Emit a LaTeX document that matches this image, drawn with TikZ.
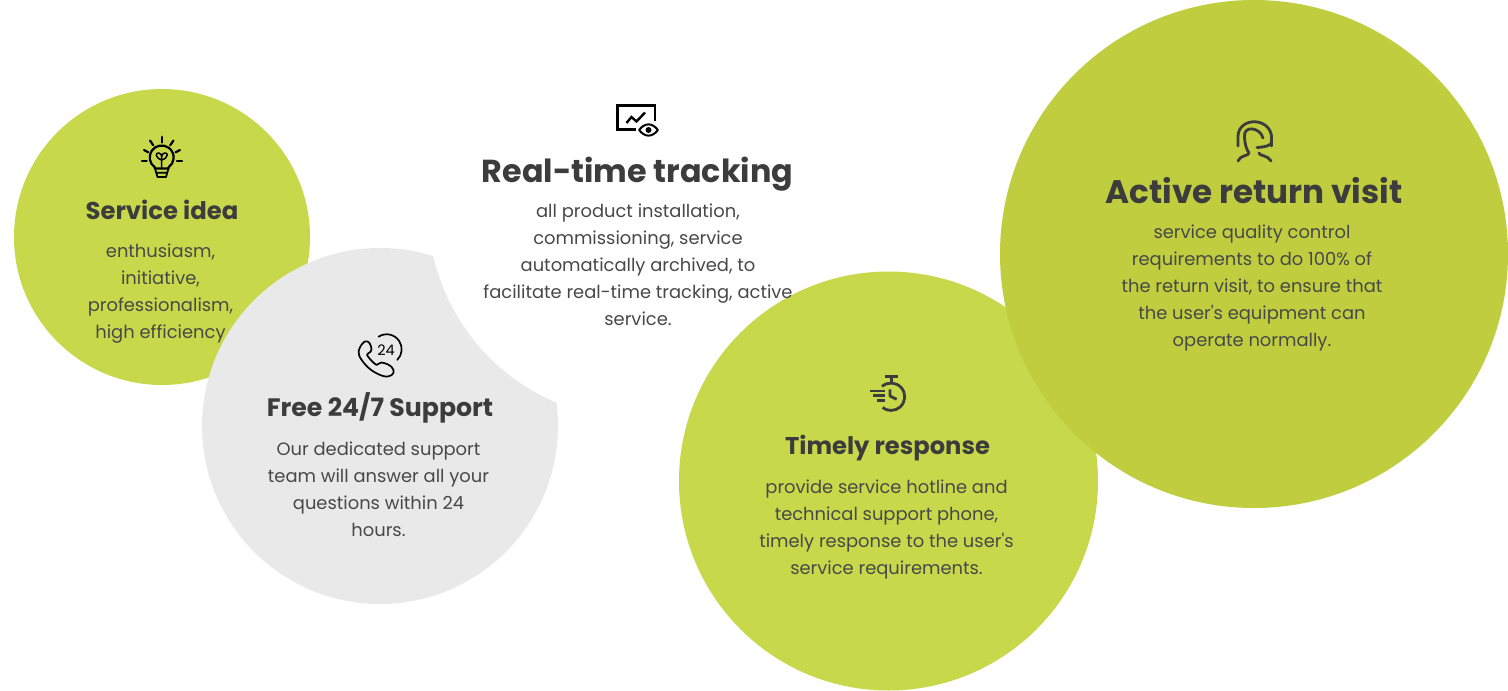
\documentclass[tikz,border=0pt]{standalone}
\usepackage{fontspec}
\setmainfont{Poppins}[Ligatures=TeXOff]
\definecolor{lime}{HTML}{C8D84B}
\definecolor{limedark}{HTML}{BFCD3F}
\definecolor{greydisc}{HTML}{E9E9E9}
\definecolor{ink}{HTML}{3C3C3C}
\definecolor{bodyink}{HTML}{484848}
\tikzset{
  disc/.style={circle,inner sep=0pt,minimum size=#1,draw=none},
  head/.style={text=ink,font=\fontsize{#1}{#1}\selectfont\bfseries,inner sep=0pt,anchor=base},
  body/.style={text=bodyink,font=\fontsize{17.9}{27}\selectfont,align=center,inner sep=0pt,anchor=base},
  icon/.style={line width=2.2pt,line cap=round,line join=round,draw=black},
  icondark/.style={line width=2.8pt,line cap=butt,line join=round,draw=ink},
}
\begin{document}
\begin{tikzpicture}[x=1pt,y=-1pt]
\useasboundingbox (0,0) rectangle (1508,691);
% discs
\node[disc=296pt,fill=lime] (d1) at (162,237) {};
\node[disc=356pt,fill=greydisc] (d2) at (380,426) {};
\node[disc=420pt,fill=white] (d3) at (638,209) {};
\node[disc=419pt,fill=lime] (d4) at (888.5,481) {};
\node[disc=508pt,fill=limedark] (d5) at (1254,254) {};
% texts
\node[head=24.3] (t1) at (162,219) {Service idea};
\node[body] (b1) at (160.5,338.5) {enthusiasm,\\initiative,\\professionalism,\\high efficiency};
\node[head=25.2] (t2) at (380,416.5) {Free 24/7 Support};
\node[body] (b2) at (378.5,536) {Our dedicated support\\team will answer all your\\questions within 24\\hours.};
\node[head=31.8] (t3) at (637.5,182) {Real-time tracking};
\node[body] (b3) at (638,325) {all product installation,\\commissioning, service\\automatically archived, to\\facilitate real-time tracking, active\\service.};
\node[head=24.2] (t4) at (887.5,454.5) {Timely response};
\node[body] (b4) at (886.5,574) {provide service hotline and\\technical support phone,\\timely response to the user's\\service requirements.};
\node[head=32.6] (t5) at (1254,203.5) {Active return visit};
\node[body] (b5) at (1252,346) {service quality control\\requirements to do 100\% of\\the return visit, to ensure that\\the user's equipment can\\operate normally.};
% bulb icon
\draw[icon] (155,168.5) -- (154.8,167.3) arc[start angle=235,end angle=-55,radius=12pt] -- (168.5,168.5) -- cycle;
\draw[icon] (161.7,136.8) -- (161.7,142.5);
\draw[icon] (150,140.5) -- (153.3,145.3) (173.5,140.5) -- (170.2,145.3);
\draw[icon] (144,150) -- (148.3,152.3) (180,150) -- (175.5,152.3);
\draw[icon] (142,160.7) -- (146.7,160.7) (177,160.7) -- (182,160.7);
\draw[icon,line width=1.8pt] (155,168.5) -- (157.5,177) -- (166,177) -- (168.5,168.5) (156.5,172.8) -- (167,172.8);
\draw[icon,line width=1.5pt] (161.7,168) -- (161.7,158) (161.7,160) .. controls (155,158) and (155,152) .. (159,153) .. controls (161,153.5) and (161.7,155) .. (161.7,157) .. controls (161.7,155) and (162.5,153.5) .. (164.5,153) .. controls (168.5,152) and (168.5,158) .. (161.7,160);
% phone icon
\draw[icon,line width=1.7pt] (378.5,336.7) arc[start angle=123,end angle=-45,radius=15pt];
\node[text=black,font=\fontsize{14.5}{14.5}\selectfont\fontseries{m},inner sep=0pt] (p24) at (386,350.5) {24};
\draw[icon,line width=1.7pt] (364,342) .. controls (358,348) and (357,353) .. (361,359) .. controls (367,368) and (374,373) .. (383,376) .. controls (390,378) and (395,374) .. (393.5,370) .. controls (392,365) and (385,363) .. (381.5,362.5) .. controls (379,362.5) and (378,365) .. (376.5,365) .. controls (372,362) and (369,358) .. (367,355) .. controls (367,353) and (371.5,353) .. (371.5,349) .. controls (371,345) and (369,340) .. (365,341.5) -- cycle;
% tracking icon
\draw[icon,line width=2.8pt,line cap=butt,line join=miter] (636,129.5) -- (617.5,129.5) -- (617.5,105.5) -- (655,105.5) -- (655,121);
\draw[icon,line width=2.4pt,line cap=butt,line join=miter] (626.5,123) -- (631.5,117) -- (636.5,121.5) -- (645,112.5);
\draw[icon,line width=2pt] (639,130) .. controls (645,122.5) and (652,122.5) .. (658,130) .. controls (652,137.5) and (645,137.5) .. (639,130) -- cycle;
\fill[black] (648.5,130) circle[radius=3];
% timer icon
\draw[icondark] (882,386.4) arc[start angle=131,end angle=-128,radius=13.7pt];
\draw[icondark] (885,376.5) -- (897.5,376.5) (891.3,376.5) -- (891.3,382.5);
\draw[icondark] (890,389.3) -- (890,396) -- (896.7,399.3);
\draw[icondark] (870,391) -- (885,391) (873,395.7) -- (885,395.7) (876.7,400.3) -- (885,400.3);
% agent icon
\draw[icondark,line cap=round] (1238,146) -- (1238,136) .. controls (1239,117) and (1269,117) .. (1271.5,136) -- (1271.5,146);
\draw[icondark,line cap=round] (1271.5,143) .. controls (1269,146) and (1265,147) .. (1257,147.5);
\draw[icondark,line cap=round] (1263,138) .. controls (1260,127) and (1243,125) .. (1244.5,137) .. controls (1245,146) and (1247,150) .. (1249,153) .. controls (1249,156) and (1240,155) .. (1238,161);
\draw[icondark,line cap=round] (1259,153) .. controls (1259,156) and (1268,155) .. (1271,161);
\end{tikzpicture}
\end{document}
